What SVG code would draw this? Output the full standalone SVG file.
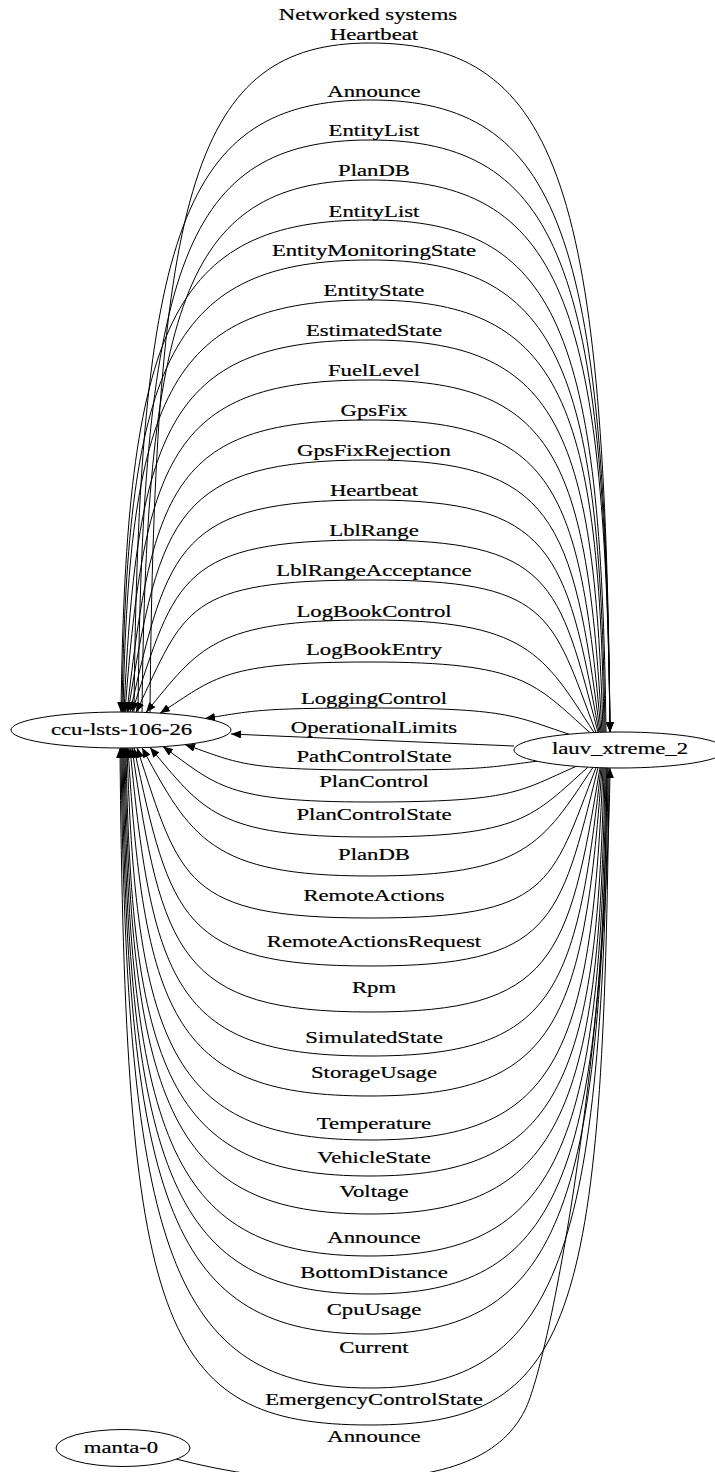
<svg xmlns="http://www.w3.org/2000/svg" width="715" height="1472" viewBox="0 0 715 1472">
<style>
.e{fill:none;stroke:#000;stroke-width:1;marker-end:url(#arr)}
.n{fill:#fff;stroke:#000;stroke-width:1}
.t{font-family:"Liberation Serif","Times New Roman",serif;font-size:16px;fill:#000;stroke:#000;stroke-width:0.2;text-anchor:middle}
</style>
<defs>
<marker id="arr" viewBox="0 0 10 8" refX="10" refY="4" markerWidth="10" markerHeight="8" markerUnits="userSpaceOnUse" orient="auto">
<path d="M0,0 L10,4 L0,8 z" fill="#000"/>
</marker>
</defs>
<rect width="715" height="1472" fill="#fff"/>
<text class="t" transform="matrix(1.42 0 0 1 368 20)">Networked systems</text>
<g id="connectors">
<path class="e" d="M150,712.6 C154.4,190.3 194,43 370,43 C562,43 605.2,194.6 610,732"/>
<path class="e" d="M134,712.2 C138.7,234.7 181.2,100 370,100 C562,100 605.2,239 610,732"/>
<path class="e" d="M138,712.3 C142.6,265.9 184.4,140 370,140 C562,140 605.2,270.2 610,732"/>
<path class="e" d="M142,712.4 C146.6,297.1 187.6,180 370,180 C562,180 605.2,301.4 610,732"/>
<path class="e" d="M606,732.2 C601.3,332.7 558.8,220 370,220 C170.8,220 126,328.2 121,712"/>
<path class="e" d="M605,732.2 C600.3,363.9 558,260 370,260 C171.6,260 127,359.4 122,712"/>
<path class="e" d="M604,732.2 C599.3,395.1 557.2,300 370,300 C172.4,300 129.2,390.6 123,712"/>
<path class="e" d="M603,732.3 C594,426.3 556.4,340 370,340 C173.2,340 136.8,421.8 124,712"/>
<path class="e" d="M602,732.3 C586.9,457.5 555.6,380 370,380 C174,380 144.4,453 125,712"/>
<path class="e" d="M601,732.3 C579.7,488.7 554.8,420 370,420 C175.6,420 152.5,484.2 127,712"/>
<path class="e" d="M600,732.3 C572.7,519.9 554,460 370,460 C176.4,460 159.9,515.4 128,712"/>
<path class="e" d="M599,732.4 C565.8,551.1 553.2,500 370,500 C178,500 168.1,546.7 130,712.1"/>
<path class="e" d="M598,732.4 C558.8,582.3 552.4,540 370,540 C179.6,540 176,577.9 132,712.1"/>
<path class="e" d="M596,732.5 C551.2,613.5 550.8,580 370,580 C182.8,580 185.6,609.1 136,712.2"/>
<path class="e" d="M594,732.6 C543.6,653.8 526.8,620 370,620 C213.2,620 199.3,647.7 146,712.4"/>
<path class="e" d="M590,732.7 C534.3,683.2 524,662 370,662 C223,662 215.9,677.4 160,713.2"/>
<path class="e" d="M569,734.2 C513.3,715.9 509.3,708 370,708 C254.5,708 253.3,711.1 205,718.4"/>
<path class="e" d="M514,746 C420,742 320,738 231,734"/>
<path class="e" d="M537,761.2 C487.9,767.4 486.9,770 370,770 C240.5,770 237.4,762.4 185,744.6"/>
<path class="e" d="M576,766.4 C519.1,791.3 514.2,802 370,802 C225.1,802 217.4,785.4 163,746.6"/>
<path class="e" d="M588,767.2 C532.8,816.1 522.6,837 370,837 C216,837 202.8,810.1 150,747.4"/>
<path class="e" d="M593,767.4 C542.2,843.4 526.1,876 370,876 C210.4,876 190.9,837.5 142,747.7"/>
<path class="e" d="M596,767.6 C550.9,884.9 550.8,918 370,918 C183.6,918 180.5,880.6 137,747.8"/>
<path class="e" d="M598,767.7 C559.7,922.4 552.4,966 370,966 C181.2,966 170.5,918 134,747.9"/>
<path class="e" d="M600,767.7 C568.5,958.3 554,1012 370,1012 C179.6,1012 161.5,953.9 132,747.9"/>
<path class="e" d="M601,767.8 C576.1,992.6 554.8,1056 370,1056 C178,1056 152.7,988.2 130,748"/>
<path class="e" d="M602,767.8 C583.2,1023.8 555.6,1096 370,1096 C176.4,1096 144.5,1019.4 128,748"/>
<path class="e" d="M603,767.8 C590.9,1058.1 556.4,1140 370,1140 C175.6,1140 136.4,1053.8 127,748"/>
<path class="e" d="M604,767.9 C597.4,1086.2 557.2,1176 370,1176 C174.8,1176 130.9,1081.8 126,748"/>
<path class="e" d="M605,767.9 C600.3,1115.9 558,1214 370,1214 C174,1214 129.9,1111.5 125,748"/>
<path class="e" d="M606,767.9 C601.3,1148.6 558.8,1256 370,1256 C173.2,1256 128.9,1144.2 124,748"/>
<path class="e" d="M607,767.9 C602.3,1178.3 559.6,1294 370,1294 C172.4,1294 127.9,1173.9 123,748"/>
<path class="e" d="M607,767.9 C602.3,1209.5 559.6,1334 370,1334 C171.6,1334 127,1205.1 122,748"/>
<path class="e" d="M608,768 C603.2,1251.6 560.4,1388 370,1388 C170.8,1388 126,1247.2 121,748"/>
<path class="e" d="M609,768 C604.2,1326.5 573.2,1425 370,1425 C157.5,1425 125,1323.5 120,748"/>
<path class="e" d="M176,1459 C230,1473 280,1480 340,1480 C440,1480 500,1460 525,1410 C550,1360 607,1050 610,768"/>
</g>
<g id="edge-labels">
<text class="t" transform="matrix(1.42 0 0 1 374 40)">Heartbeat</text>
<text class="t" transform="matrix(1.42 0 0 1 374 97)">Announce</text>
<text class="t" transform="matrix(1.42 0 0 1 374 136)">EntityList</text>
<text class="t" transform="matrix(1.42 0 0 1 374 176)">PlanDB</text>
<text class="t" transform="matrix(1.42 0 0 1 374 216.5)">EntityList</text>
<text class="t" transform="matrix(1.42 0 0 1 374 256)">EntityMonitoringState</text>
<text class="t" transform="matrix(1.42 0 0 1 374 296)">EntityState</text>
<text class="t" transform="matrix(1.42 0 0 1 374 336)">EstimatedState</text>
<text class="t" transform="matrix(1.42 0 0 1 374 376)">FuelLevel</text>
<text class="t" transform="matrix(1.42 0 0 1 374 416)">GpsFix</text>
<text class="t" transform="matrix(1.42 0 0 1 374 456)">GpsFixRejection</text>
<text class="t" transform="matrix(1.42 0 0 1 374 496)">Heartbeat</text>
<text class="t" transform="matrix(1.42 0 0 1 374 536)">LblRange</text>
<text class="t" transform="matrix(1.42 0 0 1 374 576)">LblRangeAcceptance</text>
<text class="t" transform="matrix(1.42 0 0 1 374 616.5)">LogBookControl</text>
<text class="t" transform="matrix(1.42 0 0 1 374 655)">LogBookEntry</text>
<text class="t" transform="matrix(1.42 0 0 1 374 704)">LoggingControl</text>
<text class="t" transform="matrix(1.42 0 0 1 374 733)">OperationalLimits</text>
<text class="t" transform="matrix(1.42 0 0 1 374 761.5)">PathControlState</text>
<text class="t" transform="matrix(1.42 0 0 1 374 787)">PlanControl</text>
<text class="t" transform="matrix(1.42 0 0 1 374 820)">PlanControlState</text>
<text class="t" transform="matrix(1.42 0 0 1 374 860)">PlanDB</text>
<text class="t" transform="matrix(1.42 0 0 1 374 901)">RemoteActions</text>
<text class="t" transform="matrix(1.42 0 0 1 374 947)">RemoteActionsRequest</text>
<text class="t" transform="matrix(1.42 0 0 1 374 993)">Rpm</text>
<text class="t" transform="matrix(1.42 0 0 1 374 1043)">SimulatedState</text>
<text class="t" transform="matrix(1.42 0 0 1 374 1078)">StorageUsage</text>
<text class="t" transform="matrix(1.42 0 0 1 374 1129)">Temperature</text>
<text class="t" transform="matrix(1.42 0 0 1 374 1163)">VehicleState</text>
<text class="t" transform="matrix(1.42 0 0 1 374 1197)">Voltage</text>
<text class="t" transform="matrix(1.42 0 0 1 374 1243)">Announce</text>
<text class="t" transform="matrix(1.42 0 0 1 374 1278)">BottomDistance</text>
<text class="t" transform="matrix(1.42 0 0 1 374 1315)">CpuUsage</text>
<text class="t" transform="matrix(1.42 0 0 1 374 1353)">Current</text>
<text class="t" transform="matrix(1.42 0 0 1 374 1405)">EmergencyControlState</text>
<text class="t" transform="matrix(1.42 0 0 1 374 1441.5)">Announce</text>
</g>
<g id="node-ccu">
<ellipse class="n" cx="121" cy="730" rx="110" ry="18"/>
<text class="t" transform="matrix(1.42 0 0 1 121.5 734.5)">ccu-lsts-106-26</text>
</g>
<g id="node-lauv">
<ellipse class="n" cx="620" cy="750" rx="106" ry="18"/>
<text class="t" transform="matrix(1.42 0 0 1 620 754)">lauv_xtreme_2</text>
</g>
<g id="node-manta">
<ellipse class="n" cx="123" cy="1448" rx="67" ry="18.5"/>
<text class="t" transform="matrix(1.42 0 0 1 121 1453)">manta-0</text>
</g>
</svg>
